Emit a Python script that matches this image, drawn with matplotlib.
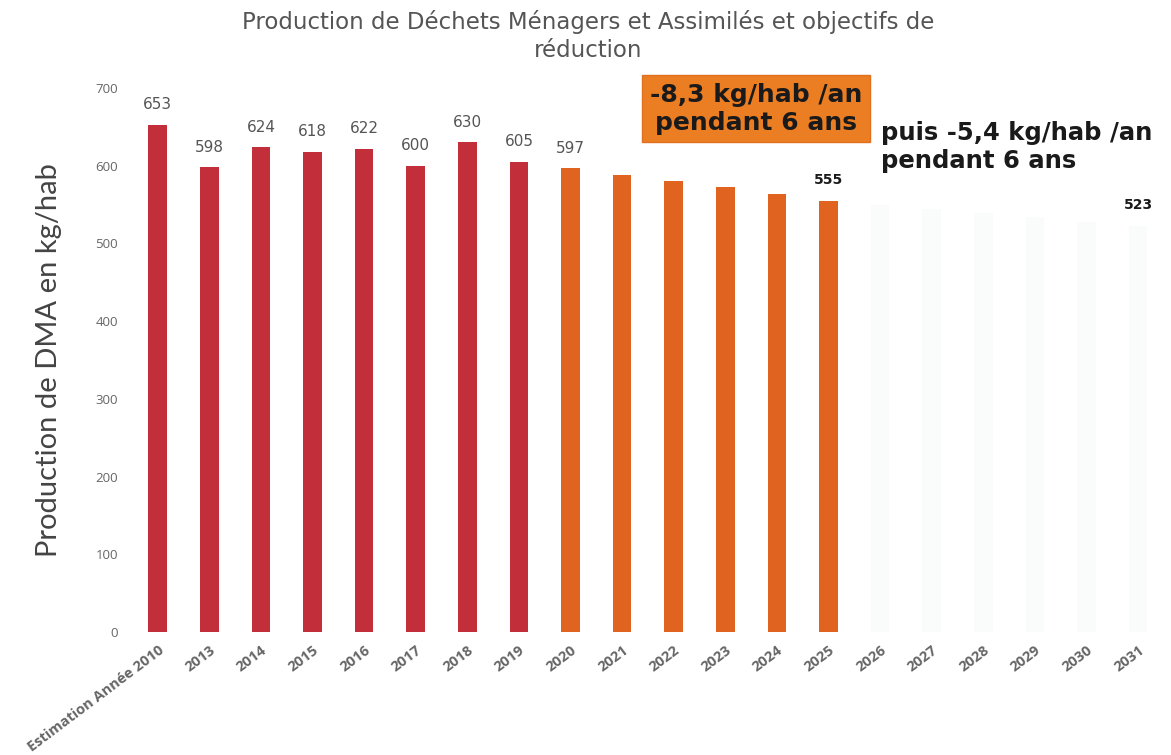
import matplotlib
matplotlib.use("Agg")
import matplotlib.pyplot as plt

categories = ["Estimation Année 2010", "2013", "2014", "2015", "2016", "2017", "2018",
              "2019", "2020", "2021", "2022", "2023", "2024", "2025", "2026", "2027",
              "2028", "2029", "2030", "2031"]
values = [653, 598, 624, 618, 622, 600, 630, 605, 597, 588.7, 580.4, 572.1, 563.8, 555,
          549.6, 544.2, 538.8, 533.4, 528, 523]
kinds = ["hist"] * 8 + ["obj1"] * 6 + ["obj2"] * 6
labels = ["653", "598", "624", "618", "622", "600", "630", "605", "597", "", "", "", "", "555",
          "", "", "", "", "", "523"]
yticks = [0, 100, 200, 300, 400, 500, 600, 700]

colors = {"hist": "#C22E3A", "obj1": "#E06420", "obj2": "#FAFCFB"}

fig = plt.figure(figsize=(11.71, 7.55), dpi=100)
ax = fig.add_axes([0.1127, 0.163, 0.8813, 0.7204])

x = list(range(len(categories)))
ax.bar(x, values, width=0.36, color=[colors[k] for k in kinds], zorder=2)

for i, (v, lab, k) in enumerate(zip(values, labels, kinds)):
    if not lab:
        continue
    if k == "hist" or i == 8:
        ax.annotate(lab, (i, v), xytext=(0, 9), textcoords="offset points",
                    ha="center", va="bottom", fontsize=11, color="#555555",
                    family="DejaVu Sans")
    else:
        ax.annotate(lab, (i, v), xytext=(0, 10), textcoords="offset points",
                    ha="center", va="bottom", fontsize=10, color="#1a1a1a",
                    fontweight="black", family="DejaVu Sans")

ax.set_xlim(-0.5, len(categories) - 0.5)
ax.set_ylim(0, 700)
ax.set_yticks(yticks)
ax.set_yticklabels([str(t) for t in yticks], fontsize=9.5, color="#666666", family="Open Sans")
ax.set_xticks(x)
ax.set_xticklabels(categories, rotation=37, ha="right", rotation_mode="anchor",
                   fontsize=10.5, color="#666666", family="Open Sans", fontweight="bold")
ax.tick_params(axis="both", length=0)
ax.tick_params(axis="y", pad=10)
ax.tick_params(axis="x", pad=8)
for s in ax.spines.values():
    s.set_visible(False)

ax.set_ylabel("Production de DMA en kg/hab", fontsize=21, color="#444444",
              family="Lato", labelpad=24)

fig.text(0.502, 0.987, "Production de Déchets Ménagers et Assimilés et objectifs de\nréduction",
         ha="center", va="top", fontsize=16.5, color="#555555", family="DejaVu Sans",
         linespacing=1.3)

fig.text(0.6456, 0.856, "-8,3 kg/hab /an\npendant 6 ans", ha="center", va="center",
         fontsize=18, fontweight="black", color="#1a1a1a", family="DejaVu Sans",
         linespacing=1.2,
         bbox=dict(boxstyle="square,pad=0.3", facecolor="#EB7D22", edgecolor="#E07020"))

fig.text(0.752, 0.805, "puis -5,4 kg/hab /an\npendant 6 ans", ha="left", va="center",
         fontsize=17.5, fontweight="black", color="#1a1a1a", family="DejaVu Sans",
         linespacing=1.2)

fig.savefig("out.png", dpi=100, facecolor="white")
